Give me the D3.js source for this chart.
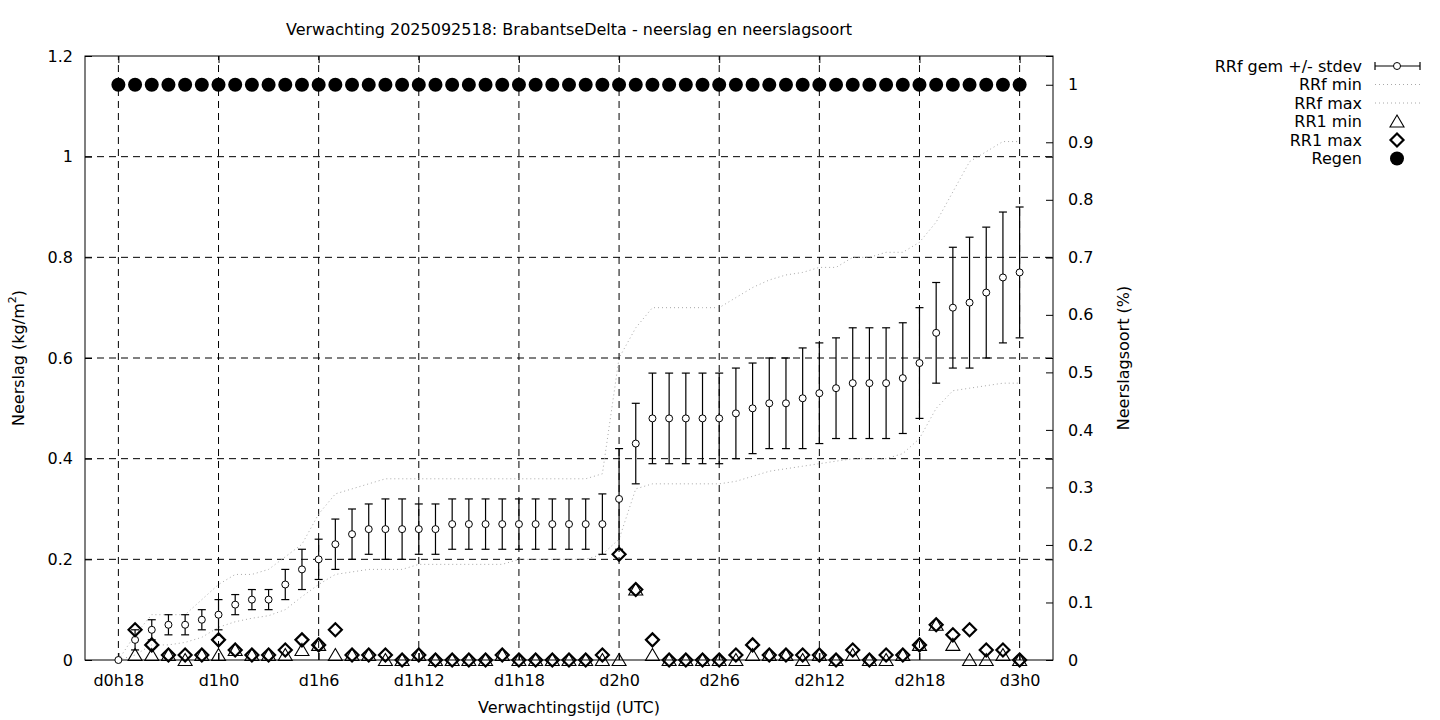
<!DOCTYPE html>
<html><head><meta charset="utf-8">
<script src="https://cdn.jsdelivr.net/npm/d3@7"></script>
<style>html,body{margin:0;padding:0;background:#fff;} svg{display:block;font-family:"DejaVu Sans",sans-serif;}</style>
</head><body>
<svg id="c" width="1440" height="720"></svg>
<script>
const title = "Verwachting 2025092518: BrabantseDelta - neerslag en neerslagsoort";
const hours = d3.range(18, 73);
const tickHours = [18,24,30,36,42,48,54,60,66,72];
const tickLabels = ["d0h18","d1h0","d1h6","d1h12","d1h18","d2h0","d2h6","d2h12","d2h18","d3h0"];
const yTicks = [0,0.2,0.4,0.6,0.8,1,1.2];
const y2Ticks = [0,0.1,0.2,0.3,0.4,0.5,0.6,0.7,0.8,0.9,1];
const rrfMean = [0,0.04,0.06,0.07,0.07,0.08,0.09,0.11,0.12,0.12,0.15,0.18,0.20,0.23,0.25,0.26,0.26,0.26,0.26,0.26,0.27,0.27,0.27,0.27,0.27,0.27,0.27,0.27,0.27,0.27,0.32,0.43,0.48,0.48,0.48,0.48,0.48,0.49,0.50,0.51,0.51,0.52,0.53,0.54,0.55,0.55,0.55,0.56,0.59,0.65,0.70,0.71,0.73,0.76,0.77];
const rrfStdev = [0,0.02,0.02,0.02,0.02,0.02,0.03,0.02,0.02,0.02,0.03,0.04,0.04,0.05,0.05,0.05,0.06,0.06,0.05,0.05,0.05,0.05,0.05,0.05,0.05,0.05,0.05,0.05,0.05,0.06,0.10,0.08,0.09,0.09,0.09,0.09,0.09,0.09,0.09,0.09,0.09,0.10,0.10,0.10,0.11,0.11,0.11,0.11,0.11,0.10,0.12,0.13,0.13,0.13,0.13];
const rrfMin = [0,0.01,0.03,0.03,0.035,0.045,0.065,0.076,0.083,0.088,0.10,0.126,0.15,0.17,0.175,0.18,0.18,0.18,0.19,0.19,0.19,0.19,0.19,0.19,0.20,0.20,0.20,0.20,0.20,0.21,0.24,0.34,0.35,0.35,0.35,0.35,0.35,0.355,0.365,0.375,0.38,0.385,0.39,0.395,0.40,0.40,0.40,0.41,0.44,0.50,0.535,0.54,0.545,0.55,0.55];
const rrfMax = [0,0.05,0.09,0.09,0.09,0.12,0.15,0.17,0.17,0.18,0.205,0.23,0.29,0.33,0.34,0.35,0.36,0.36,0.36,0.36,0.36,0.36,0.36,0.36,0.36,0.36,0.36,0.36,0.36,0.37,0.60,0.66,0.70,0.70,0.70,0.70,0.70,0.72,0.74,0.755,0.765,0.77,0.78,0.78,0.80,0.80,0.81,0.81,0.83,0.87,0.93,0.99,1.01,1.03,1.03];
const rr1Min = [null,0.01,0.01,0.01,0,0.01,0.01,0.02,0.01,0.01,0.01,0.02,0.03,0.01,0.01,0.01,0,0,0.01,0,0,0,0,0.01,0,0,0,0,0,0,0,0.14,0.01,0,0,0,0,0,0.01,0.01,0.01,0,0.01,0,0.01,0,0,0.01,0.03,0.07,0.03,0,0,0.01,0];
const rr1Max = [null,0.06,0.03,0.01,0.01,0.01,0.04,0.02,0.01,0.01,0.02,0.04,0.03,0.06,0.01,0.01,0.01,0,0.01,0,0,0,0,0.01,0,0,0,0,0,0.01,0.21,0.14,0.04,0,0,0,0,0.01,0.03,0.01,0.01,0.01,0.01,0,0.02,0,0.01,0.01,0.03,0.07,0.05,0.06,0.02,0.02,0];
const regen = hours.map(() => 1);

const L = 85, R = 1053, T = 56, B = 660;
const svg = d3.select("#c");
const x = d3.scaleLinear().domain([16, 74]).range([L, R]);
const y = d3.scaleLinear().domain([0, 1.2]).range([B, T]);
const y2 = d3.scaleLinear().domain([0, 1.05]).range([B, T]);
const FS = 16;

// grid
const grid = svg.append("g").attr("stroke", "#000").attr("stroke-width", 1).attr("stroke-dasharray", "7,5");
tickHours.forEach(h => grid.append("line").attr("x1", x(h)).attr("x2", x(h)).attr("y1", B).attr("y2", T));
yTicks.filter(v => v > 0 && v < 1.2).forEach(v => grid.append("line").attr("x1", L).attr("x2", R).attr("y1", y(v)).attr("y2", y(v)));

// border
svg.append("rect").attr("x", L).attr("y", T).attr("width", R - L).attr("height", B - T).attr("fill", "none").attr("stroke", "#000").attr("stroke-width", 1);

// axes via d3 (inward ticks)
const axB = svg.append("g").attr("transform", `translate(0,${B})`)
  .call(d3.axisBottom(x).tickValues(tickHours).tickFormat((d, i) => tickLabels[i]).tickSizeInner(-7).tickSizeOuter(0).tickPadding(15));
const axT = svg.append("g").attr("transform", `translate(0,${T})`)
  .call(d3.axisTop(x).tickValues(tickHours).tickFormat("").tickSizeInner(-7).tickSizeOuter(0));
const axL = svg.append("g").attr("transform", `translate(${L},0)`)
  .call(d3.axisLeft(y).tickValues(yTicks).tickFormat(d => d3.format("")(+d.toFixed(1))).tickSizeInner(-7).tickSizeOuter(0).tickPadding(12));
const axRm = svg.append("g").attr("transform", `translate(${R},0)`)
  .call(d3.axisRight(y).tickValues(yTicks).tickFormat("").tickSizeInner(-7).tickSizeOuter(0));
const axR = svg.append("g").attr("transform", `translate(${R},0)`)
  .call(d3.axisRight(y2).tickValues(y2Ticks).tickFormat(d => +d.toFixed(1)).tickSizeInner(-7).tickSizeOuter(0).tickPadding(15));
[axB, axT, axL, axRm, axR].forEach(a => {
  a.select(".domain").remove();
  a.selectAll("line").attr("stroke", "#000");
  a.selectAll("text").attr("font-family", "DejaVu Sans").attr("font-size", FS).attr("fill", "#000");
});

// dotted min/max lines
const lineGen = arr => d3.line().x((d, i) => x(hours[i])).y(d => y(d))(arr);
[rrfMin, rrfMax].forEach(arr => svg.append("path").attr("d", lineGen(arr)).attr("fill", "none")
  .attr("stroke", "#a8a8a8").attr("stroke-width", 1).attr("stroke-dasharray", "1,3"));

// error bars
const eb = svg.append("g").attr("stroke", "#000").attr("stroke-width", 1.2);
hours.forEach((h, i) => {
  const m = rrfMean[i], s = rrfStdev[i];
  if (s > 0) {
    eb.append("line").attr("x1", x(h)).attr("x2", x(h)).attr("y1", y(m - s)).attr("y2", y(m + s));
    [m - s, m + s].forEach(v => eb.append("line").attr("x1", x(h) - 4).attr("x2", x(h) + 4).attr("y1", y(v)).attr("y2", y(v)));
  }
});
svg.append("g").selectAll("circle").data(hours).join("circle")
  .attr("cx", d => x(d)).attr("cy", (d, i) => y(rrfMean[i])).attr("r", 3.5)
  .attr("fill", "#fff").attr("stroke", "#000").attr("stroke-width", 1);

// triangles
const triPath = (cx, cy) => `M${cx},${cy - 6.5}L${cx + 7},${cy + 5.5}L${cx - 7},${cy + 5.5}Z`;
svg.append("g").selectAll("path").data(hours.filter((h, i) => rr1Min[i] !== null)).join("path")
  .attr("d", d => triPath(x(d), y(rr1Min[hours.indexOf(d)])))
  .attr("fill", "none").attr("stroke", "#000").attr("stroke-width", 1.1);
// diamonds
const diaPath = (cx, cy) => `M${cx},${cy - 6.5}L${cx + 6.5},${cy}L${cx},${cy + 6.5}L${cx - 6.5},${cy}Z`;
svg.append("g").selectAll("path").data(hours.filter((h, i) => rr1Max[i] !== null)).join("path")
  .attr("d", d => diaPath(x(d), y(rr1Max[hours.indexOf(d)])))
  .attr("fill", "none").attr("stroke", "#000").attr("stroke-width", 2.2);
// regen
svg.append("g").selectAll("circle").data(hours).join("circle")
  .attr("cx", d => x(d)).attr("cy", (d, i) => y2(regen[i])).attr("r", 7).attr("fill", "#000");

// titles
const txt = (t, px, py, anchor, rot) => {
  const e = svg.append("text").attr("x", px).attr("y", py).attr("text-anchor", anchor)
    .attr("font-size", FS).attr("fill", "#000").attr("dominant-baseline", "central");
  if (rot) e.attr("transform", `rotate(-90,${px},${py})`);
  e.text(t); return e;
};
txt(title, (L + R) / 2, 29, "middle");
txt("Verwachtingstijd (UTC)", (L + R) / 2, 707, "middle");
const yl = svg.append("text").attr("x", 18).attr("y", 358).attr("text-anchor", "middle").attr("font-size", FS)
  .attr("dominant-baseline", "central").attr("transform", "rotate(-90,18,358)");
yl.append("tspan").text("Neerslag (kg/m");
yl.append("tspan").attr("dy", -6).attr("font-size", 11).text("2");
yl.append("tspan").attr("dy", 6).text(")");
txt("Neerslagsoort (%)", 1123, 358, "middle", true);

// legend
const LX = 1362, SX1 = 1375, SX2 = 1420, SXc = 1397;
const rows = [66, 84.5, 103, 121.5, 140, 158.5];
const names = ["RRf gem +/- stdev", "RRf min", "RRf max", "RR1 min", "RR1 max", "Regen"];
names.forEach((n, i) => txt(n, LX, rows[i], "end"));
const lg = svg.append("g").attr("stroke", "#000").attr("stroke-width", 1.2);
lg.append("line").attr("x1", SX1).attr("x2", SX2).attr("y1", rows[0]).attr("y2", rows[0]);
[SX1, SX2].forEach(xx => lg.append("line").attr("x1", xx).attr("x2", xx).attr("y1", rows[0] - 4).attr("y2", rows[0] + 4));
svg.append("circle").attr("cx", SXc).attr("cy", rows[0]).attr("r", 3.5).attr("fill", "#fff").attr("stroke", "#000");
[1, 2].forEach(i => svg.append("line").attr("x1", SX1).attr("x2", SX2).attr("y1", rows[i]).attr("y2", rows[i])
  .attr("stroke", "#a8a8a8").attr("stroke-dasharray", "1,3"));
svg.append("path").attr("d", triPath(SXc, rows[3])).attr("fill", "none").attr("stroke", "#000").attr("stroke-width", 1.1);
svg.append("path").attr("d", diaPath(SXc, rows[4])).attr("fill", "none").attr("stroke", "#000").attr("stroke-width", 2.2);
svg.append("circle").attr("cx", SXc).attr("cy", rows[5]).attr("r", 7).attr("fill", "#000");
</script>
</body></html>
